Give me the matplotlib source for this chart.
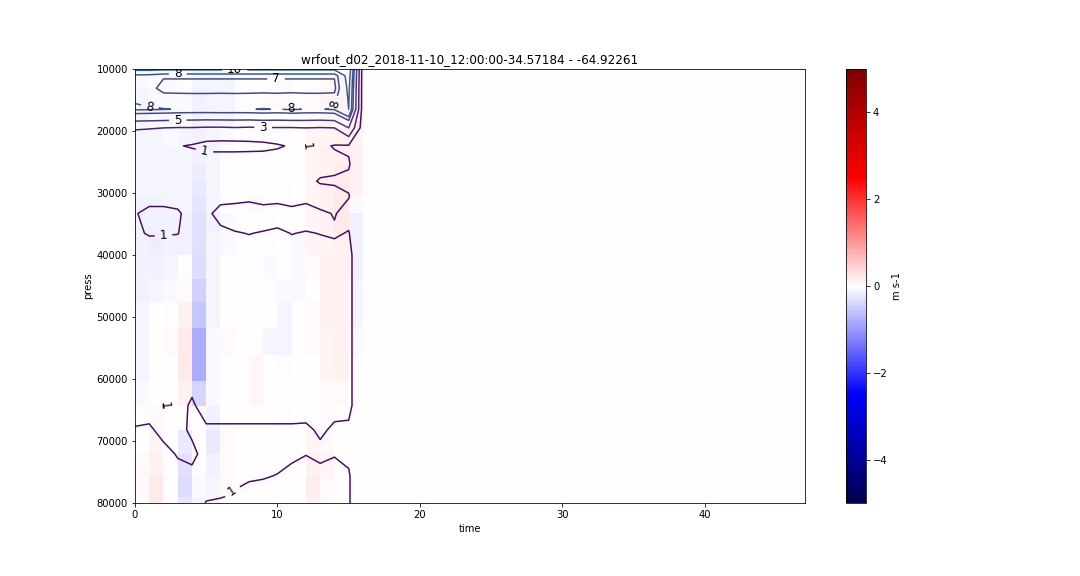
import numpy as np
import matplotlib
matplotlib.use("Agg")
import matplotlib.pyplot as plt
from matplotlib.colors import Normalize

# ---------------- data ----------------
title = "wrfout_d02_2018-11-10_12:00:00-34.57184 - -64.92261"
time_edges = list(range(48))          # time axis 0..47
press = [9500, 11100, 13100, 16500, 19500, 22400, 25300, 28100, 30500, 33300,
         36500, 40000, 43800, 47500, 51800, 56100, 60300, 64300, 68200, 72100,
         75600, 79000, 82400]
n_valid = 16                           # columns with model output (t = 0..15)

# vertical wind (m s-1), rows between pressure levels, columns t0..t15
w_rows = [
    [-0.05, -0.05, -0.05, -0.03, -0.08, -0.08, -0.05, 0, 0, 0, 0.02, 0.02, 0.03, 0.05, 0.05, 0.10],
    [-0.05, -0.03, -0.05, -0.03, -0.10, -0.10, -0.08, 0, 0, 0.03, 0.05, 0.03, 0.03, 0.05, 0.08, 0.12],
    [-0.08, -0.05, -0.05, -0.05, -0.12, -0.10, -0.10, -0.02, 0, 0.05, 0.05, 0.03, 0.05, 0.08, 0.10, 0.15],
    [-0.08, -0.05, -0.05, -0.05, -0.12, -0.10, -0.08, -0.02, 0, 0.03, 0.03, 0.02, 0.05, 0.08, 0.10, 0.12],
    [-0.08, -0.08, -0.05, -0.08, -0.15, -0.10, -0.05, 0, 0, 0.02, 0, 0.02, 0.08, 0.10, 0.12, 0.10],
    [-0.10, -0.08, -0.08, -0.10, -0.15, -0.10, -0.03, 0, 0, 0, 0, 0.02, 0.10, 0.12, 0.15, 0.12],
    [-0.10, -0.10, -0.08, -0.10, -0.18, -0.08, -0.03, 0, 0.02, 0, 0, 0.03, 0.10, 0.12, 0.18, 0.15],
    [-0.10, -0.10, -0.08, -0.10, -0.20, -0.08, -0.03, 0, 0.03, 0, -0.02, 0.02, 0.10, 0.15, 0.20, 0.12],
    [-0.12, -0.12, -0.10, -0.10, -0.25, -0.10, -0.03, 0, 0.05, 0, -0.02, 0, 0.10, 0.15, 0.22, -0.05],
    [-0.15, -0.15, -0.12, -0.12, -0.30, -0.12, -0.05, 0, 0, -0.02, 0, 0, 0.10, 0.12, 0.20, -0.15],
    [-0.15, -0.18, -0.12, -0.12, -0.30, -0.10, -0.05, 0, 0, -0.02, 0.02, -0.05, 0.08, 0.10, 0.15, -0.15],
    [-0.12, -0.15, -0.10, -0.03, -0.35, -0.10, 0, 0, -0.03, -0.05, 0.03, -0.05, 0.05, 0.12, 0.15, -0.12],
    [-0.12, -0.10, -0.05, 0.05, -0.45, -0.08, 0, 0, 0, -0.03, -0.05, -0.05, 0.03, 0.12, 0.15, -0.10],
    [-0.10, 0, -0.03, 0.15, -0.55, -0.10, 0, 0, 0, -0.03, -0.08, 0, 0.05, 0.12, 0.12, -0.08],
    [-0.10, 0.02, 0.05, 0.20, -0.80, -0.05, 0.05, 0, 0.02, -0.08, -0.08, 0, 0.05, 0.10, 0.12, -0.05],
    [-0.08, 0, 0.03, 0.20, -0.80, -0.05, 0.03, 0.03, 0.08, 0, -0.03, 0, 0.03, 0.10, 0.12, -0.03],
    [-0.05, 0.02, 0.02, 0.12, -0.40, -0.05, 0.03, 0.02, 0.08, 0, 0, 0, 0.02, 0.05, 0.05, 0],
    [-0.03, 0.05, 0.03, 0.03, 0, -0.15, 0.02, 0.02, 0, 0.02, -0.02, 0, 0.03, 0.05, 0.03, 0],
    [0.02, 0.10, 0.02, -0.20, 0.02, -0.20, 0.05, 0.02, 0, 0, 0, 0.03, 0.10, 0.05, 0.02, 0.02],
    [0.05, 0.15, 0, -0.30, -0.02, -0.15, 0.05, 0.02, 0, 0.02, 0, 0.03, 0.15, 0.08, 0.03, 0.02],
    [0.05, 0.20, 0.02, -0.35, -0.05, -0.08, 0.05, 0.03, 0, 0.02, 0.02, 0.02, 0.18, 0.05, 0.03, 0.02],
    [0.05, 0.20, 0, -0.25, -0.10, -0.10, 0.03, 0.02, 0, 0.02, 0.02, 0.02, 0.15, 0.05, 0.03, 0.02],
]

# contoured field, values at pressure levels, columns t0..t15
s_rows = [
    [12, 12, 12, 12, 12, 12, 12, 12, 12, 12, 12, 12, 12, 12, 12, 12],
    [7.6, 7.5, 7.1, 7.1, 7.1, 7.1, 7.1, 7.1, 7.1, 7.1, 7.1, 7.1, 7.1, 7.1, 7.1, 11],
    [7.6, 7.3, 6.7, 6.7, 6.7, 6.7, 6.7, 6.7, 6.7, 6.7, 6.7, 6.7, 6.7, 6.7, 6.7, 10.5],
    [8.15, 8.1, 8.05, 7.95, 7.9, 7.9, 7.95, 7.9, 7.95, 8.05, 7.95, 8.1, 7.95, 7.95, 8.1, 10],
    [3.2, 3.1, 3.0, 2.9, 2.9, 2.8, 2.8, 2.9, 2.8, 2.9, 2.9, 2.9, 3.0, 2.9, 3.0, 5],
    [1.4, 1.4, 1.3, 1.1, 0.85, 0.4, 0.3, 0.3, 0.4, 0.5, 0.8, 1.2, 0.98, 1.3, 0.9, 0.85],
    [2.0, 2.0, 1.9, 1.8, 2.0, 2.2, 2.4, 2.4, 2.3, 2.2, 2.0, 1.9, 1.8, 1.4, 1.4, 1.1],
    [1.7, 1.6, 1.6, 1.6, 1.7, 1.8, 1.8, 1.8, 1.7, 1.7, 1.6, 1.5, 1.3, 0.9, 0.8, 0.8],
    [1.3, 1.3, 1.3, 1.3, 1.4, 1.4, 1.3, 1.3, 1.2, 1.4, 1.3, 1.6, 1.3, 1.5, 1.5, 1.05],
    [1.05, 0.8, 0.8, 0.9, 1.3, 1.2, 0.7, 0.6, 0.6, 0.6, 0.6, 0.6, 0.6, 0.85, 1.05, 0.7],
    [1.1, 0.95, 0.95, 0.98, 1.3, 1.3, 1.2, 1.05, 0.98, 1.05, 1.15, 0.98, 1.05, 0.98, 0.9, 1.05],
    [1.3, 1.35, 1.4, 1.4, 1.4, 1.4, 1.35, 1.3, 1.3, 1.3, 1.35, 1.3, 1.3, 1.3, 1.3, 1.3],
    [1.35, 1.4, 1.45, 1.45, 1.5, 1.45, 1.4, 1.4, 1.35, 1.35, 1.4, 1.35, 1.4, 1.35, 1.35, 1.3],
    [1.4, 1.45, 1.5, 1.5, 1.55, 1.5, 1.45, 1.45, 1.4, 1.4, 1.4, 1.4, 1.45, 1.4, 1.4, 1.3],
    [1.4, 1.45, 1.5, 1.5, 1.6, 1.5, 1.5, 1.45, 1.45, 1.4, 1.4, 1.45, 1.45, 1.4, 1.4, 1.3],
    [1.4, 1.4, 1.45, 1.45, 1.5, 1.5, 1.45, 1.45, 1.4, 1.4, 1.4, 1.4, 1.4, 1.4, 1.4, 1.3],
    [1.35, 1.35, 1.3, 1.35, 1.2, 1.4, 1.4, 1.4, 1.35, 1.35, 1.35, 1.35, 1.35, 1.35, 1.35, 1.3],
    [1.3, 1.3, 0.97, 1.25, 0.9, 1.3, 1.3, 1.3, 1.3, 1.3, 1.3, 1.3, 1.3, 1.3, 1.2, 1.3],
    [0.95, 0.9, 1.2, 1.25, 0.85, 0.9, 0.9, 0.9, 0.9, 0.9, 0.9, 0.9, 0.88, 1.1, 0.9, 0.8],
    [0.8, 0.75, 0.8, 1.05, 1.2, 0.7, 0.7, 0.75, 0.8, 0.8, 0.8, 0.85, 0.98, 0.85, 0.95, 0.8],
    [0.8, 0.7, 0.7, 0.8, 0.8, 0.8, 0.85, 0.9, 0.92, 0.95, 1.02, 1.2, 1.3, 1.2, 1.3, 1.1],
    [0.8, 0.75, 0.75, 0.85, 0.9, 0.95, 0.98, 1.05, 1.2, 1.25, 1.3, 1.3, 1.3, 1.3, 1.3, 1.1],
    [0.8, 0.8, 0.8, 0.85, 0.9, 1.2, 1.3, 1.3, 1.3, 1.3, 1.3, 1.3, 1.3, 1.3, 1.3, 1.1],
]
contour_levels = [1, 3, 5, 7, 8, 10]
cbar_ticks = [-4, -2, 0, 2, 4]

# where the contour labels sit (time, press)
label_time = [3.0, 7.0, 9.9, 1.05, 10.9, 14.2, 3.0, 9.0, 4.9, 12.3, 2.0, 2.2, 7.0]
label_press = [10800, 10300, 11300, 15800, 15800, 15800, 18000, 19800,
               23000, 21400, 37300, 64200, 78700]

# ---------------- build grids ----------------
x = np.array(time_edges, dtype=float)
y = np.array(press, dtype=float)
n_t = len(x)
W = np.zeros((len(y) - 1, n_t - 1))
W[:, :n_valid] = np.array(w_rows)
S = np.zeros((len(y), n_t))
S[:, :n_valid] = np.array(s_rows)

# ---------------- figure ----------------
fig = plt.figure(figsize=(15, 8), dpi=72)
ax = fig.add_axes([0.125, 73 / 576, 0.62, 434 / 576])
cax = fig.add_axes([846 / 1080, 73 / 576, 20 / 1080, 434 / 576])

mesh = ax.pcolormesh(x, y, W, cmap="seismic", vmin=-5, vmax=5, shading="flat")
cs = ax.contour(x, y, S, levels=contour_levels, cmap="viridis",
                norm=Normalize(vmin=0, vmax=32), linewidths=1.5)

ax.set_xlim(0, 47)
ax.set_ylim(80000, 10000)
ax.clabel(cs, inline=True, fmt="%d", fontsize=12, colors="k",
          manual=list(zip(label_time, label_press)))

ax.set_xlabel("time")
ax.set_ylabel("press")
ax.set_title(title, fontsize=12)

cb = fig.colorbar(mesh, cax=cax)
cb.set_ticks(cbar_ticks)
cb.set_label("m s-1")

fig.savefig("out.png", dpi=72)
